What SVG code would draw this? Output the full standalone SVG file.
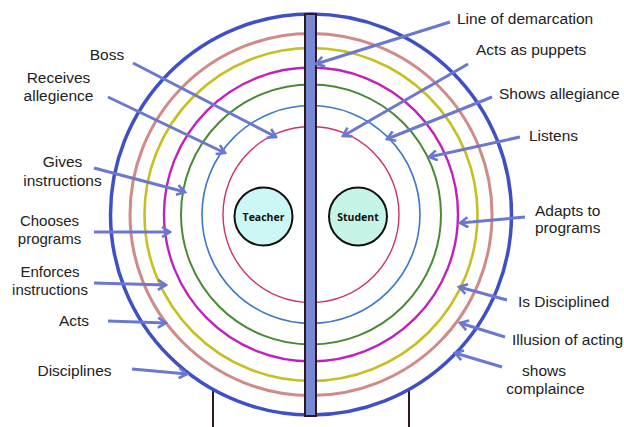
<svg xmlns="http://www.w3.org/2000/svg" width="624" height="427" viewBox="0 0 624 427">
<defs>
<style>
.lbl{font-family:"Liberation Sans",Arial,sans-serif;font-size:15.5px;fill:#222}
.tight{font-size:15px}
.mid{text-anchor:middle}
.nt{font-family:"Open Sans","DejaVu Sans",sans-serif;font-size:10.5px;font-weight:bold;fill:#111;text-anchor:middle}
.ring{fill:none}
.arr{stroke:#6a78d0;stroke-width:3;fill:none;marker-end:url(#ah)}
.leg{stroke:#2a1a20;stroke-width:2}
</style>
<marker id="ah" viewBox="0 0 12 12" refX="10" refY="6" markerWidth="12" markerHeight="12" markerUnits="userSpaceOnUse" orient="auto">
<path d="M2,1 L10,6 L2,11" fill="none" stroke="#6a78d0" stroke-width="2.6"/>
</marker>
</defs>
<rect width="624" height="427" fill="#fff"/>
<g id="stand">
<line class="leg" x1="213" y1="388" x2="213" y2="427"/>
<line class="leg" x1="409" y1="388" x2="409" y2="427"/>
</g>
<g id="rings">
<circle class="ring" cx="311" cy="214.5" r="200.5" stroke="#3f4fc6" stroke-width="3.5"/>
<circle class="ring" cx="311" cy="214.5" r="181" stroke="#d08a88" stroke-width="3"/>
<circle class="ring" cx="311" cy="214.5" r="166.5" stroke="#c8bf20" stroke-width="2.6"/>
<circle class="ring" cx="311" cy="214.5" r="147" stroke="#c21fbf" stroke-width="2.4"/>
<circle class="ring" cx="311" cy="214.5" r="130" stroke="#4a8a35" stroke-width="2"/>
<circle class="ring" cx="311" cy="214.5" r="109" stroke="#3a7ac8" stroke-width="1.6"/>
<circle class="ring" cx="311" cy="214.5" r="88" stroke="#d0306a" stroke-width="1.4"/>
</g>
<g id="bar">
<rect x="305" y="14" width="11" height="402" fill="#7a88d4" stroke="#2a1a20" stroke-width="2"/>
</g>
<g id="teacher">
<circle cx="263.5" cy="216.5" r="29" fill="#cdf7f4" stroke="#111" stroke-width="2"/>
<text class="nt" x="263.5" y="220.5">Teacher</text>
</g>
<g id="student">
<circle cx="358" cy="216.5" r="29" fill="#c6f5e8" stroke="#111" stroke-width="2"/>
<text class="nt" x="358" y="220.5">Student</text>
</g>
<g id="connectors">
<line class="arr" x1="133" y1="63" x2="276" y2="137"/>
<line class="arr" x1="108" y1="97" x2="225" y2="153"/>
<line class="arr" x1="94" y1="168" x2="185" y2="192"/>
<line class="arr" x1="94" y1="232" x2="170" y2="232"/>
<line class="arr" x1="94" y1="283" x2="166" y2="285"/>
<line class="arr" x1="108" y1="321" x2="166" y2="323"/>
<line class="arr" x1="132" y1="369" x2="187" y2="374"/>
<line class="arr" x1="450" y1="22" x2="316" y2="64"/>
<line class="arr" x1="468" y1="64" x2="343" y2="136"/>
<line class="arr" x1="492" y1="97" x2="387" y2="139"/>
<line class="arr" x1="520" y1="137" x2="429" y2="157"/>
<line class="arr" x1="525" y1="217" x2="460" y2="223"/>
<line class="arr" x1="507" y1="300" x2="459" y2="287"/>
<line class="arr" x1="505" y1="337" x2="460" y2="323"/>
<line class="arr" x1="502" y1="367" x2="455" y2="353"/>
</g>
<g id="labels-left">
<text class="lbl mid" x="107" y="60">Boss</text>
<text class="lbl mid" x="58.5" y="83">Receives</text>
<text class="lbl mid" x="58.5" y="101">allegience</text>
<text class="lbl mid" x="62.5" y="167">Gives</text>
<text class="lbl mid" x="62.5" y="186">instructions</text>
<text class="lbl tight mid" x="49.5" y="226">Chooses</text>
<text class="lbl tight mid" x="49.5" y="244">programs</text>
<text class="lbl tight mid" x="50" y="277">Enforces</text>
<text class="lbl tight mid" x="50" y="295">instructions</text>
<text class="lbl mid" x="74" y="326">Acts</text>
<text class="lbl mid" x="74.5" y="376">Disciplines</text>
</g>
<g id="labels-right">
<text class="lbl" x="457" y="24">Line of demarcation</text>
<text class="lbl" x="476" y="55">Acts as puppets</text>
<text class="lbl" x="499" y="99">Shows allegiance</text>
<text class="lbl" x="529" y="141">Listens</text>
<text class="lbl" x="535" y="216">Adapts to</text>
<text class="lbl" x="535" y="233">programs</text>
<text class="lbl" x="518" y="307">Is Disciplined</text>
<text class="lbl" x="512" y="345">Illusion of acting</text>
<text class="lbl mid" x="544" y="376">shows</text>
<text class="lbl mid" x="545.5" y="394">complaince</text>
</g>
</svg>
